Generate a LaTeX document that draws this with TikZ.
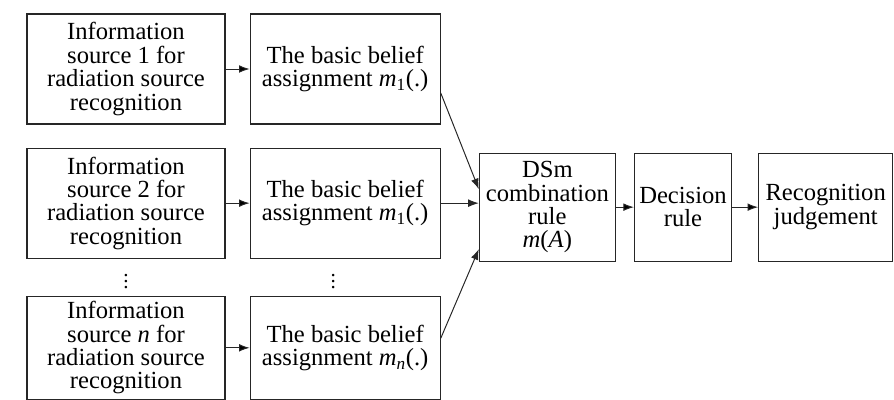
\documentclass[tikz,border=0pt]{standalone}
\usepackage{fontspec}
\setmainfont{Liberation Serif}
\usepackage{tikz}
\usetikzlibrary{positioning,calc,arrows.meta}

\begin{document}
\begin{tikzpicture}[x=0.025cm,y=-0.025cm,>={Latex[length=7.5pt,width=5.5pt]},node distance=0.6cm,
  blk/.style={draw=black!85,line width=0.8pt,align=center,inner sep=1pt,
    font=\fontsize{17.5}{16.6}\selectfont},
  src/.style={blk,minimum width=4.95cm,minimum height=2.75cm},
  bba/.style={blk,minimum width=4.75cm,minimum height=2.75cm},
  fus/.style={blk,minimum height=2.7cm},
  gap/.style={inner sep=0pt,font=\fontsize{15}{15}\selectfont}]
\useasboundingbox (0,0) rectangle (894,400);
\node[src] (s_1) at (126,69) {Information\\source 1 for\\radiation source\\recognition};
\node[src] (s_2) [below=0.575cm of s_1] {Information\\source 2 for\\radiation source\\recognition};
\node[src,minimum height=2.575cm] (s_n) [below=0.925cm of s_2] {Information\\source \textit{n} for\\radiation source\\recognition};
\node[bba] (b_1) [right=of s_1] {The basic belief\\assignment \textit{m}\textsubscript{1}(.)};
\node[bba] (b_2) [right=of s_2] {The basic belief\\assignment \textit{m}\textsubscript{1}(.)};
\node[bba,minimum height=2.575cm] (b_n) [right=of s_n] {The basic belief\\assignment \textit{m}\textsubscript{\textit{n}}(.)};
\node[gap] (v_1) at ($(s_2.south)!0.5!(s_n.north)$) {$\vdots$};
\node[gap,xshift=-0.3cm] (v_2) at ($(b_2.south)!0.5!(b_n.north)$) {$\vdots$};
\node[fus,minimum width=3.4cm] (dsm) [right=0.95cm of b_2,yshift=-0.1cm] {DSm\\combination\\rule\\\textit{m}(\textit{A})};
\node[fus,minimum width=2.425cm] (dec) [right=0.45cm of dsm] {Decision\\rule};
\node[fus,minimum width=3.35cm] (rec) [right=0.65cm of dec] {Recognition\\judgement};
\path[->,draw=black!85,line width=0.7pt]
(s_1) edge (b_1)
(s_2) edge (b_2)
(s_n) edge (b_n)
(dsm) edge (dec)
(dec) edge (rec);
\draw[->,draw=black!85,line width=0.7pt] ([yshift=-0.6cm]b_1.east) -- ([yshift=0.45cm]dsm.west);
\draw[->,draw=black!85,line width=0.7pt] (b_2.east) -- (b_2.east -| dsm.west);
\draw[->,draw=black!85,line width=0.7pt] ([yshift=0.24cm]b_n.east) -- ([yshift=-1.05cm]dsm.west);
\end{tikzpicture}
\end{document}
